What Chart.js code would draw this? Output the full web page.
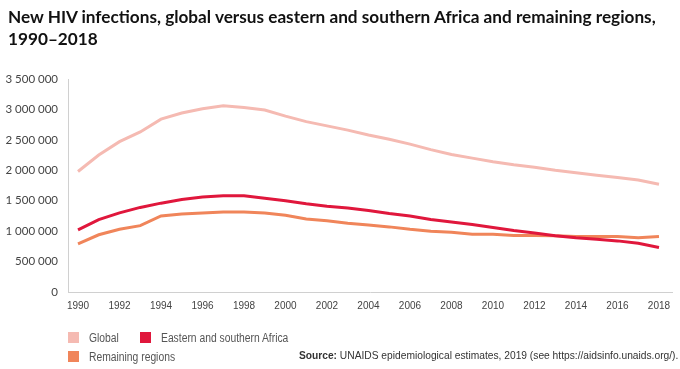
<!DOCTYPE html>
<html>
<head>
<meta charset="utf-8">
<script src="https://cdn.jsdelivr.net/npm/chart.js@4"></script>
<style>
  body { margin: 0; background: #fff; }
  #wrap { position: relative; width: 680px; height: 369px; overflow: hidden; }
  #chart { position: absolute; left: 0; top: 0; }
  .title { position: absolute; left: 8px; top: 6px; font-family: Lato, sans-serif; font-weight: 700; font-size: 17.2px; line-height: 22px; color: #111; }
  .leg { position: absolute; font-family: "Liberation Sans", sans-serif; font-size: 12px; color: #555; white-space: nowrap; }
  .leg span.sq { display: inline-block; width: 11px; height: 11px; vertical-align: -1px; margin-right: 10px; }
  .leg span.tx { display: inline-block; transform: scaleX(0.86); transform-origin: left center; }
  .src { position: absolute; right: 2px; top: 349px; font-family: "Liberation Sans", sans-serif; font-size: 11.5px; color: #333; white-space: nowrap; transform: scaleX(0.89); transform-origin: right center; }
</style>
</head>
<body>
<div id="wrap">
  <canvas id="chart" width="680" height="369"></canvas>
  <div class="title">New HIV infections, global versus eastern and southern Africa and remaining regions,<br>1990–2018</div>
  <div class="leg" style="left:68px; top:331px;"><span class="sq" style="background:#f5bab2"></span><span class="tx">Global</span></div>
  <div class="leg" style="left:140px; top:331px;"><span class="sq" style="background:#e0173c"></span><span class="tx">Eastern and southern Africa</span></div>
  <div class="leg" style="left:68px; top:350px;"><span class="sq" style="background:#f0855a"></span><span class="tx">Remaining regions</span></div>
  <div class="src"><b>Source:</b> UNAIDS epidemiological estimates, 2019 (see https://aidsinfo.unaids.org/).</div>
</div>
<script>
const years = [1990, 1991, 1992, 1993, 1994, 1995, 1996, 1997, 1998, 1999,
  2000, 2001, 2002, 2003, 2004, 2005, 2006, 2007, 2008, 2009,
  2010, 2011, 2012, 2013, 2014, 2015, 2016, 2017, 2018];

const globalNew = [1980000, 2250000, 2470000, 2630000, 2840000, 2940000, 3010000, 3060000, 3030000, 2990000,
  2890000, 2800000, 2730000, 2660000, 2580000, 2510000, 2430000, 2340000, 2260000, 2200000,
  2140000, 2090000, 2050000, 2000000, 1960000, 1920000, 1880000, 1840000, 1770000];

const esaNew = [1020000, 1190000, 1300000, 1390000, 1460000, 1520000, 1560000, 1580000, 1580000, 1540000,
  1500000, 1450000, 1410000, 1380000, 1340000, 1290000, 1250000, 1190000, 1150000, 1110000,
  1060000, 1010000, 970000, 925000, 890000, 865000, 840000, 800000, 730000];

const restNew = [790000, 940000, 1030000, 1090000, 1250000, 1280000, 1300000, 1315000, 1315000, 1300000,
  1260000, 1200000, 1170000, 1130000, 1100000, 1070000, 1030000, 1000000, 980000, 950000,
  950000, 930000, 930000, 925000, 910000, 910000, 910000, 890000, 910000];

const yTicks = [0, 500000, 1000000, 1500000, 2000000, 2500000, 3000000, 3500000];
const xTickYears = years.filter(y => y % 2 === 0);

function pts(arr) {
  return years.map((y, i) => ({ x: y, y: arr[i] }));
}

function fmt(v) {
  return String(v).replace(/\B(?=(\d{3})+(?!\d))/g, ' ');
}

new Chart(document.getElementById('chart').getContext('2d'), {
  type: 'line',
  data: {
    datasets: [
      { label: 'Global', data: pts(globalNew), borderColor: '#f5bab2', borderWidth: 3, pointRadius: 0, tension: 0 },
      { label: 'Eastern and southern Africa', data: pts(esaNew), borderColor: '#e0173c', borderWidth: 3, pointRadius: 0, tension: 0 },
      { label: 'Remaining regions', data: pts(restNew), borderColor: '#f0855a', borderWidth: 3, pointRadius: 0, tension: 0 }
    ]
  },
  options: {
    responsive: false,
    animation: false,
    layout: { padding: { left: 0, right: 8, top: 79, bottom: 0 } },
    plugins: { legend: { display: false }, title: { display: false }, tooltip: { enabled: false } },
    scales: {
      x: {
        type: 'linear',
        min: 1989.518,
        max: 2018.627,
        afterBuildTicks: s => { s.ticks = xTickYears.map(v => ({ value: v })); },
        afterFit: s => { s.height = 77; },
        grid: { display: false, drawTicks: false },
        border: { color: '#d0d0d0', width: 1 },
        ticks: {
          padding: 8,
          maxRotation: 0,
          autoSkip: false,
          color: '#444',
          font: { family: '"Liberation Sans", sans-serif', size: 10 },
          callback: v => String(v)
        }
      },
      y: {
        min: 0,
        max: 3500000,
        afterBuildTicks: s => { s.ticks = yTicks.map(v => ({ value: v })); },
        afterFit: s => { s.width = 68; },
        grid: { display: false, drawTicks: false },
        border: { color: '#d0d0d0', width: 1 },
        ticks: {
          padding: 10,
          color: '#444',
          font: { family: 'Lato, sans-serif', size: 11.5 },
          callback: v => fmt(v)
        }
      }
    }
  }
});
</script>
</body>
</html>
